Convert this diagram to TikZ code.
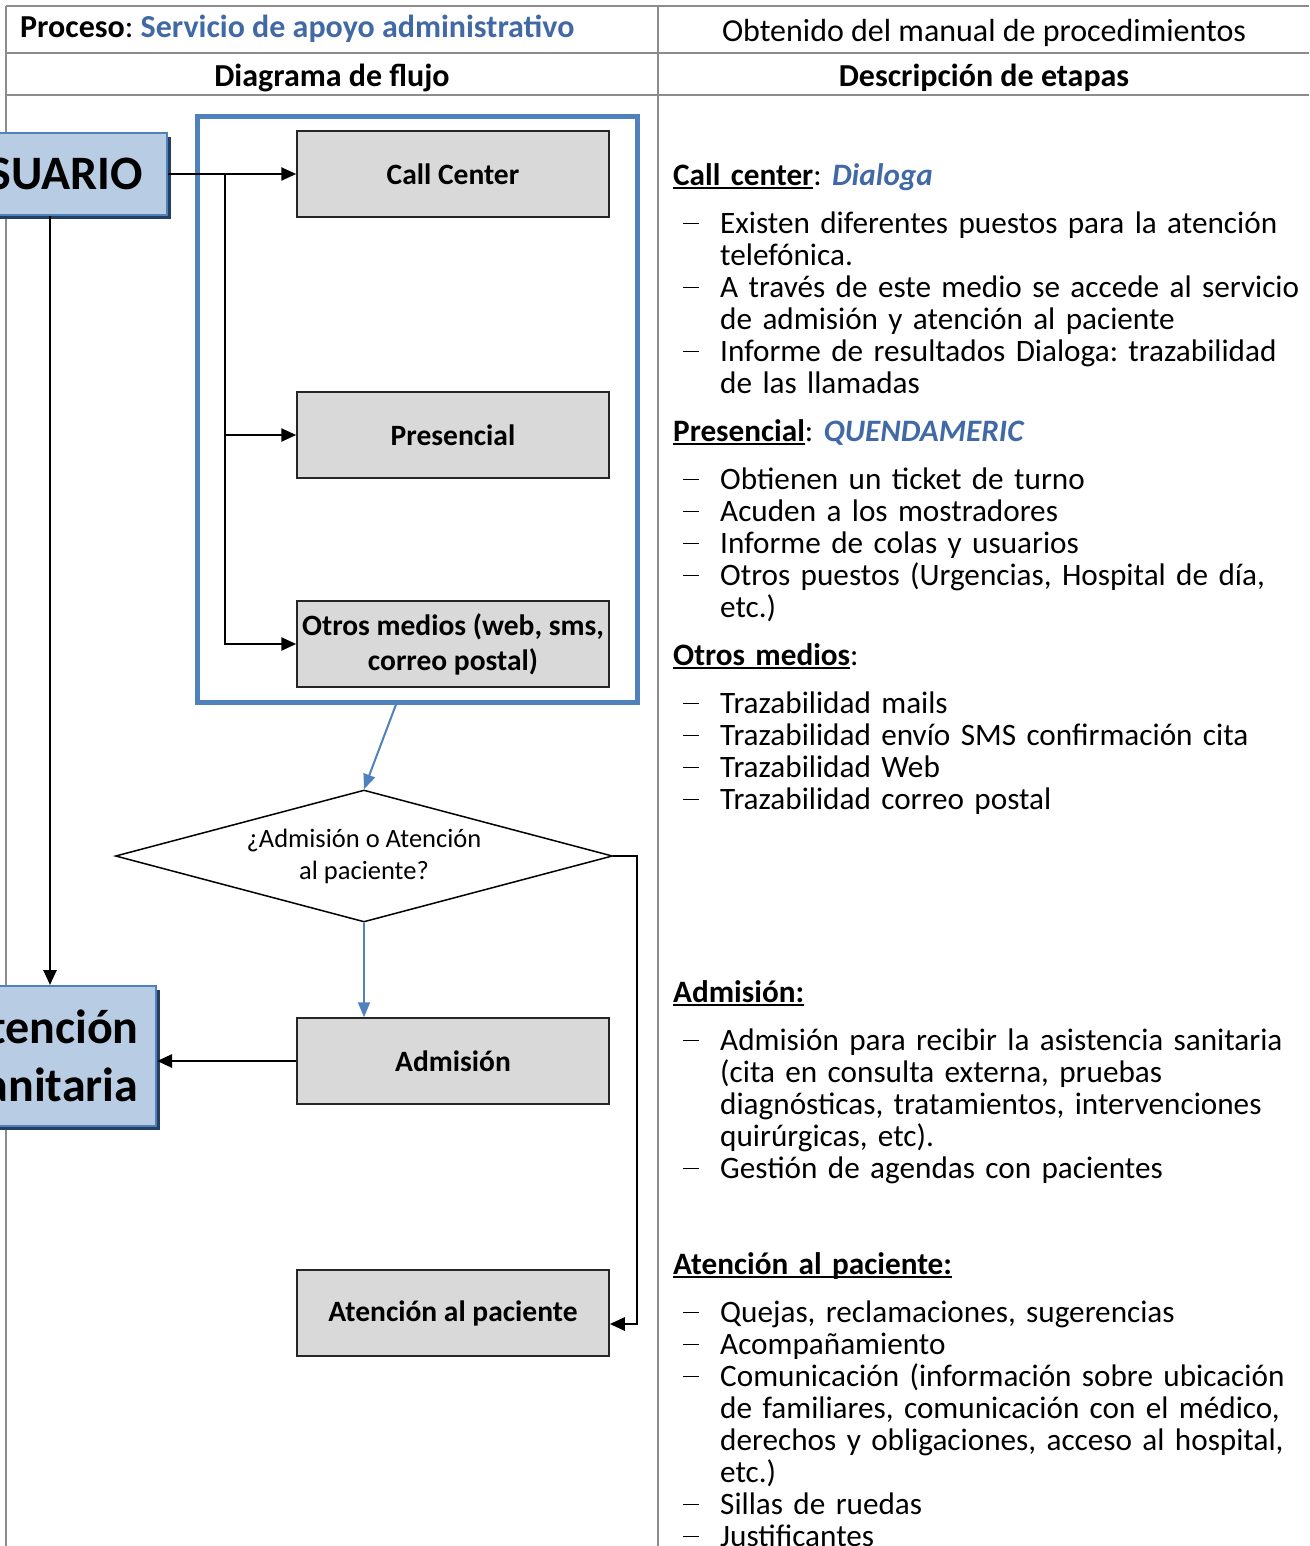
\documentclass[tikz,border=0pt]{standalone}
\usepackage{fontspec}
\setmainfont{Carlito}
\usetikzlibrary{shapes.geometric, arrows, arrows.meta, shadows}
\setlength{\parindent}{0pt}
\frenchspacing
\definecolor{azul}{HTML}{4F81BD}
\definecolor{azultexto}{RGB}{65,105,165}
\definecolor{azulclaro}{HTML}{B8CCE4}
\definecolor{azulsombra}{HTML}{243F60}
\definecolor{gristabla}{HTML}{8C8C8C}
\definecolor{grisproc}{HTML}{D9D9D9}
\newcommand{\guion}{\makebox[47pt][l]{\hspace*{10pt}\rule[9pt]{16pt}{1.3pt}}}
\newcommand{\sigue}{\hspace*{47pt}}
\newcommand{\subr}[1]{\sbox0{#1}\rlap{\rule[-4pt]{\wd0}{2pt}}\usebox0}
\tikzstyle{proceso} = [rectangle, minimum width=312pt, minimum height=86pt, text centered, draw=black!85, line width=1.5pt, fill=grisproc, font=\fontsize{29.5}{35}\selectfont\bfseries, align=center]
\tikzstyle{actor} = [rectangle, draw=azul, line width=2pt, fill=azulclaro, font=\fontsize{48}{58}\selectfont\bfseries, align=center, drop shadow={shadow xshift=4pt, shadow yshift=-4pt, fill=azulsombra, opacity=1}]
\tikzstyle{decision} = [diamond, aspect=3.77, minimum width=497pt, minimum height=132pt, inner sep=0pt, draw=black, line width=1.5pt, font=\fontsize{26.5}{32}\selectfont, align=center]
\tikzstyle{arrow} = [line width=2.5pt, ->, >={Triangle[length=15pt, width=13pt]}]
\tikzstyle{bluearrow} = [line width=2pt, draw=azul, ->, >={Triangle[length=15pt, width=12pt]}]
\tikzstyle{linea} = [draw=gristabla, line width=2pt]
\tikzstyle{cabecera} = [inner sep=0pt, font=\fontsize{32}{36}\selectfont]
\tikzstyle{etapa} = [anchor=north west, inner sep=0pt, text width=700pt, align=left, font=\fontsize{31.2}{32}\selectfont]

\begin{document}
\begin{tikzpicture}[x=1pt, y=-1pt] % 1pt = 1px of the reference

\useasboundingbox (0,0) rectangle (1309,1546);
\clip (0,0) rectangle (1309,1546);

% Table
\draw [linea] (6,6) -- (1309,6);
\draw [linea] (6,53) -- (1309,53);
\draw [linea] (6,95) -- (1309,95);
\draw [linea] (6,6) -- (6,1546);
\draw [linea] (658,6) -- (658,1546);

\node (proc) [cabecera, anchor=base west] at (20,38) {\textbf{Proceso}: \textbf{\color{azultexto}Servicio de apoyo administrativo}};
\node (fuente) [cabecera, anchor=base] at (984,42) {Obtenido del manual de procedimientos};
\node (colflujo) [cabecera, anchor=base] at (332,87) {\textbf{Diagrama de flujo}};
\node (coletapas) [cabecera, anchor=base] at (984,87) {\textbf{Descripción de etapas}};

% Nodes
\node (canales) [rectangle, draw=azul, line width=5pt, minimum width=440pt, minimum height=585pt] at (417,409.5) {};
\node (usuario) [actor, minimum width=234pt, minimum height=82pt] at (50,174) {USUARIO};
\node (callc) [proceso] at (453,174) {Call Center};
\node (presen) [proceso] at (453,435) {Presencial};
\node (otros) [proceso] at (453,644) {Otros medios (web, sms,\\correo postal)};
\node (decis) [decision] at (364,856) {¿Admisión o Atención\\al paciente?};
\node (admis) [proceso] at (453,1061) {Admisión};
\node (atsan) [actor, minimum width=212pt, minimum height=140pt] at (50,1056) {Atención\\Sanitaria};
\node (atpac) [proceso] at (453,1313) {Atención al paciente};
\coordinate (rama) at (225,174);
\coordinate (giro) at (637,856);

% Arrows
\draw [arrow] (usuario.east) -- (callc.west);
\draw [arrow] (rama) |- (presen.west);
\draw [arrow] (rama) |- (otros.west);
\draw [arrow] (usuario.south) -- (usuario.south |- atsan.north);
\draw [bluearrow] ([xshift=-21pt]canales.south) -- (decis.north);
\draw [bluearrow] (decis.south) -- (decis.south |- admis.north);
\draw [arrow] (admis.west) -- (admis.west -| atsan.east);
\draw [arrow] (decis.east) -- (giro) |- ([yshift=-11pt]atpac.east);

% Descriptions
\node (desccall) [etapa] at (673,162.6) {\strut\subr{\textbf{Call center}}: \textbf{\textit{\color{azultexto}Dialoga}}\\[16pt]
\guion Existen diferentes puestos para la atención\\
\sigue telefónica.\\
\guion A través de este medio se accede al servicio\\
\sigue de admisión y atención al paciente\\
\guion Informe de resultados Dialoga: trazabilidad\\
\sigue de las llamadas};
\node (descpres) [etapa] at (673,418.6) {\strut\subr{\textbf{Presencial}}: \textbf{\textit{\color{azultexto}QUENDAMERIC}}\\[16pt]
\guion Obtienen un ticket de turno\\
\guion Acuden a los mostradores\\
\guion Informe de colas y usuarios\\
\guion Otros puestos (Urgencias, Hospital de día,\\
\sigue etc.)};
\node (descotros) [etapa] at (673,642.6) {\strut\subr{\textbf{Otros medios}}:\\[16pt]
\guion Trazabilidad mails\\
\guion Trazabilidad envío SMS confirmación cita\\
\guion Trazabilidad Web\\
\guion Trazabilidad correo postal};
\node (descadm) [etapa] at (673,979.6) {\strut\subr{\textbf{Admisión:}}\\[16pt]
\guion Admisión para recibir la asistencia sanitaria\\
\sigue (cita en consulta externa, pruebas\\
\sigue diagnósticas, tratamientos, intervenciones\\
\sigue quirúrgicas, etc).\\
\guion Gestión de agendas con pacientes};
\node (descpac) [etapa] at (673,1251.6) {\strut\subr{\textbf{Atención al paciente:}}\\[16pt]
\guion Quejas, reclamaciones, sugerencias\\
\guion Acompañamiento\\
\guion Comunicación (información sobre ubicación\\
\sigue de familiares, comunicación con el médico,\\
\sigue derechos y obligaciones, acceso al hospital,\\
\sigue etc.)\\
\guion Sillas de ruedas\\
\guion Justificantes};

\end{tikzpicture}
\end{document}
